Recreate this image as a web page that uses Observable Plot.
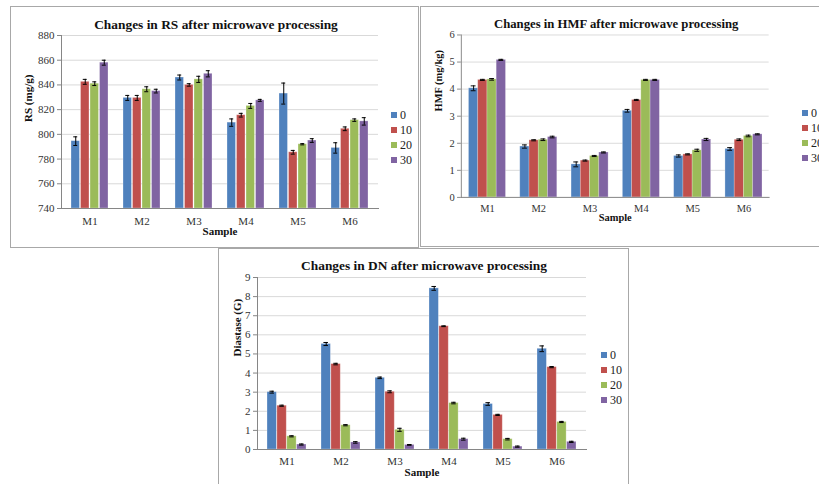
<!DOCTYPE html>
<html>
<head>
<meta charset="utf-8">
<script src="https://cdn.jsdelivr.net/npm/d3@7"></script>
<script src="https://cdn.jsdelivr.net/npm/@observablehq/plot@0.6"></script>
<style>
html, body { margin: 0; padding: 0; background: #fff; }
#page { position: relative; width: 819px; height: 484px; overflow: hidden; background: #fff;
  font-family: "Liberation Serif", "Times New Roman", serif; }
.panel { position: absolute; box-sizing: border-box; border: 1px solid #a8a8a8; background: #fff; }
.chart { position: absolute; }
.chart svg { overflow: visible; }
.chart svg text { font-family: "Liberation Serif", "Times New Roman", serif; }
.legend { position: absolute; font-size: 12px; color: #222; font-family: "Liberation Serif", "Times New Roman", serif; }
.legend .row { height: 15px; line-height: 15px; white-space: nowrap; }
.legend .sw { display: inline-block; width: 6px; height: 6px; margin-right: 3px; vertical-align: middle; position: relative; top: -1px; }
</style>
</head>
<body>
<div id="page"></div>
<script>
// ---------------- data ----------------
const samples = ["M1", "M2", "M3", "M4", "M5", "M6"];
const seriesNames = ["0", "10", "20", "30"];
const seriesColors = ["#4F81BD", "#C0504D", "#9BBB59", "#8064A2"];

// RS (mg/g) – one row per series (0, 10, 20, 30), one column per sample
const rsTicks = [740, 760, 780, 800, 820, 840, 860, 880];
const rsValues = [
  [794.5, 829.5, 846, 809.5, 833, 789],
  [842.5, 829.5, 840, 815.5, 785.5, 804.5],
  [841, 836.5, 844.5, 823, 792, 811.5],
  [858, 835, 849, 827.5, 795, 810.5]
];
const rsErrors = [
  [3.5, 2, 2, 3, 8.5, 4.2],
  [2, 2, 1, 1.5, 1.5, 1.5],
  [1.5, 2, 2.5, 2, 0.5, 1],
  [2, 1.5, 2.5, 0.8, 1.5, 3]
];

// HMF (mg/kg)
const hmfTicks = [0, 1, 2, 3, 4, 5, 6];
const hmfValues = [
  [4.03, 1.88, 1.22, 3.2, 1.53, 1.79],
  [4.34, 2.11, 1.36, 3.6, 1.59, 2.13],
  [4.36, 2.13, 1.53, 4.34, 1.74, 2.27],
  [5.08, 2.23, 1.66, 4.34, 2.14, 2.33]
];
const hmfErrors = [
  [0.09, 0.06, 0.09, 0.05, 0.04, 0.05],
  [0.02, 0.02, 0.02, 0.02, 0.02, 0.03],
  [0.03, 0.03, 0.02, 0.02, 0.04, 0.03],
  [0.02, 0.03, 0.02, 0.02, 0.04, 0.02]
];

// Diastase (G)
const dnTicks = [0, 1, 2, 3, 4, 5, 6, 7, 8, 9];
const dnValues = [
  [3.0, 5.52, 3.75, 8.43, 2.38, 5.27],
  [2.29, 4.47, 3.02, 6.45, 1.81, 4.31],
  [0.69, 1.27, 1.03, 2.43, 0.54, 1.44],
  [0.26, 0.37, 0.24, 0.54, 0.15, 0.4]
];
const dnErrors = [
  [0.05, 0.08, 0.04, 0.1, 0.07, 0.15],
  [0.03, 0.04, 0.05, 0.02, 0.03, 0.03],
  [0.03, 0.03, 0.08, 0.04, 0.04, 0.03],
  [0.03, 0.04, 0.02, 0.05, 0.03, 0.03]
];

// ---------------- drawing ----------------
const GAP = 0.28;      // gap between sample groups (band padding)
const CAP = 5;         // error bar cap width
const FONT = '"Liberation Serif", "Times New Roman", serif';
const page = document.getElementById("page");

function drawPanel(cfg) {
  const {box, plot, title, titleDx, titleDy, yLabel, yLabelDx, yLabelDy, xLabelDy, xTickPad,
         ticks, values, errors, legend} = cfg;

  const border = document.createElement("div");
  border.className = "panel";
  Object.assign(border.style, {left: box.x + "px", top: box.y + "px", width: box.w + "px", height: box.h + "px"});
  page.appendChild(border);

  const pw = plot.r - plot.l;
  const step = pw / samples.length;
  const bw = step * (1 - GAP);
  const sub = bw / seriesNames.length;
  const nS = seriesNames.length;

  const marks = [Plot.ruleY(ticks, {stroke: "#d9d9d9", strokeWidth: 1})];

  seriesNames.forEach((name, i) => {
    const rows = samples.map((s, j) => ({sample: s, series: name, value: values[i][j], err: errors[i][j]}));
    const inL = i * sub, inR = (nS - 1 - i) * sub;
    const capL = inL + (sub - CAP) / 2, capR = inR + (sub - CAP) / 2;
    marks.push(
      Plot.barY(rows, {x: "sample", y1: ticks[0], y2: "value", fill: seriesColors[i],
        insetLeft: inL, insetRight: inR, stroke: "#ffffff", strokeOpacity: 0.35, strokeWidth: 0.8}),
      Plot.ruleX(rows, {x: "sample", y1: d => d.value - d.err, y2: d => d.value + d.err,
        dx: (i - (nS - 1) / 2) * sub, stroke: "#000", strokeWidth: 1}),
      Plot.tickY(rows, {x: "sample", y: d => d.value + d.err, insetLeft: capL, insetRight: capR, stroke: "#000", strokeWidth: 1}),
      Plot.tickY(rows, {x: "sample", y: d => d.value - d.err, insetLeft: capL, insetRight: capR, stroke: "#000", strokeWidth: 1})
    );
  });

  marks.push(
    Plot.frame({anchor: "left", stroke: "#868686"}),
    Plot.frame({anchor: "bottom", stroke: "#868686"}),
    Plot.axisY({ticks: ticks, tickFormat: d3.format("d"), tickSize: 4, tickPadding: 3, stroke: "#868686", fill: "#333",
      fontSize: 11, fontFamily: FONT, label: null}),
    Plot.axisX({tickSize: 0, tickPadding: xTickPad, fill: "#333", fontSize: 11, fontFamily: FONT, label: null}),
    Plot.text([title], {text: d => d, frameAnchor: "top", dx: titleDx, dy: titleDy,
      fontWeight: "bold", fontSize: 13.4, fontFamily: FONT, fill: "#111"}),
    Plot.text([yLabel], {text: d => d, frameAnchor: "left", dx: yLabelDx, dy: yLabelDy, rotate: -90,
      fontWeight: "bold", fontSize: 11, fontFamily: FONT, fill: "#111"}),
    Plot.text(["Sample"], {text: d => d, frameAnchor: "bottom", dy: xLabelDy,
      fontWeight: "bold", fontSize: 11, fontFamily: FONT, fill: "#111"})
  );

  const svg = Plot.plot({
    width: box.w,
    height: box.h,
    marginLeft: plot.l - box.x,
    marginRight: box.x + box.w - plot.r,
    marginTop: plot.t - box.y,
    marginBottom: box.y + box.h - plot.b,
    x: {type: "band", domain: samples, paddingInner: GAP, paddingOuter: GAP / 2, align: 0.5},
    y: {domain: [ticks[0], ticks[ticks.length - 1]]},
    style: {fontFamily: FONT, fontSize: "11px", background: "transparent", overflow: "visible"},
    marks
  });
  const holder = document.createElement("div");
  holder.className = "chart";
  Object.assign(holder.style, {left: box.x + "px", top: box.y + "px"});
  holder.appendChild(svg);
  page.appendChild(holder);

  const lg = document.createElement("div");
  lg.className = "legend";
  Object.assign(lg.style, {left: legend.x + "px", top: (legend.y - 7.5) + "px"});
  seriesNames.forEach((name, i) => {
    const row = document.createElement("div");
    row.className = "row";
    const sw = document.createElement("span");
    sw.className = "sw";
    sw.style.background = seriesColors[i];
    row.appendChild(sw);
    row.appendChild(document.createTextNode(name));
    lg.appendChild(row);
  });
  page.appendChild(lg);
}

drawPanel({
  box: {x: 10, y: 6, w: 409, h: 242},
  plot: {l: 61, t: 35, r: 378, b: 208},
  title: "Changes in RS after microwave processing", titleDx: -4, titleDy: -16,
  yLabel: "RS (mg/g)", yLabelDx: -33, yLabelDy: 0,
  xLabelDy: 26, xTickPad: 9,
  ticks: rsTicks, values: rsValues, errors: rsErrors,
  legend: {x: 391, y: 115}
});

drawPanel({
  box: {x: 420, y: 6, w: 420, h: 241},
  plot: {l: 463, t: 36, r: 787, b: 207},
  title: "Changes in HMF after microwave processing", titleDx: 1, titleDy: -17,
  yLabel: "HMF (mg/kg)", yLabelDx: -24, yLabelDy: -5,
  xLabelDy: 25, xTickPad: 8,
  ticks: hmfTicks, values: hmfValues, errors: hmfErrors,
  legend: {x: 802, y: 113}
});

drawPanel({
  box: {x: 218, y: 248, w: 411, h: 260},
  plot: {l: 257, t: 277, r: 586, b: 449},
  title: "Changes in DN after microwave processing", titleDx: 2, titleDy: -17,
  yLabel: "Diastase (G)", yLabelDx: -20, yLabelDy: -7,
  xLabelDy: 26, xTickPad: 8,
  ticks: dnTicks, values: dnValues, errors: dnErrors,
  legend: {x: 601, y: 355}
});
</script>
</body>
</html>
